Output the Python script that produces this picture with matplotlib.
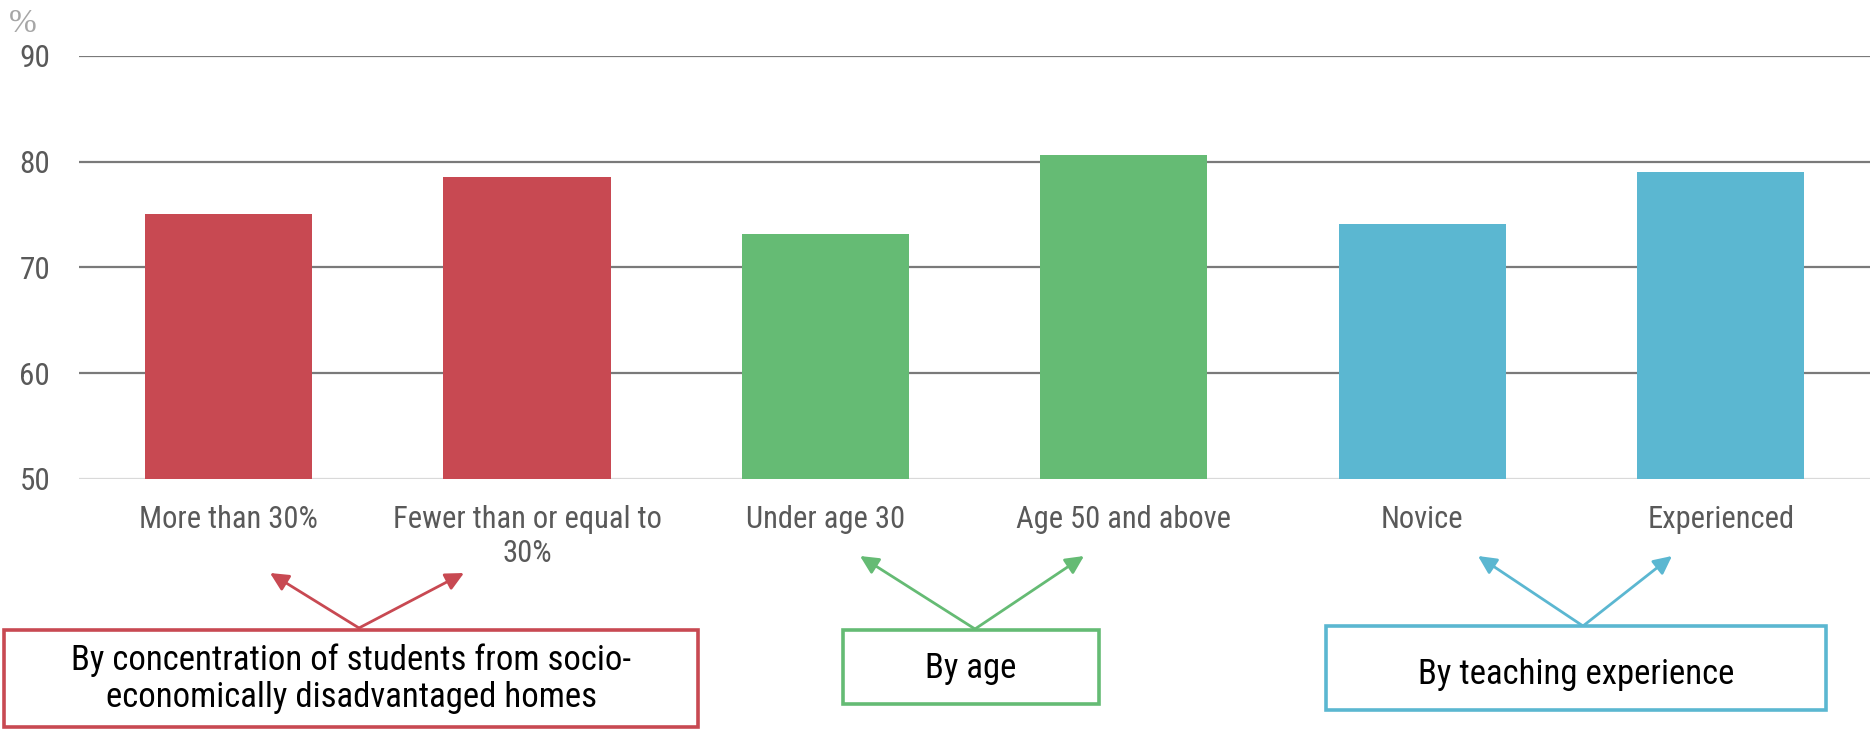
import matplotlib
matplotlib.use("Agg")
import matplotlib.pyplot as plt
from matplotlib.patches import FancyArrowPatch, Rectangle
from matplotlib.transforms import Affine2D

plt.rcParams['font.family'] = ['Roboto Condensed', 'DejaVu Sans']

# Data
categories = ["More than 30%", "Fewer than or equal to\n30%", "Under age 30",
              "Age 50 and above", "Novice", "Experienced"]
values = [75.1, 78.6, 73.2, 80.6, 74.1, 79.0]
group_of_bar = [0, 0, 1, 1, 2, 2]
group_labels = ["By concentration of students from socio-\neconomically disadvantaged homes",
                "By age", "By teaching experience"]
group_colors = ["#C84952", "#65BB74", "#5BB7D1"]
yticks = [50, 60, 70, 80, 90]

W, H = 1870, 729
fig = plt.figure(figsize=(W / 100, H / 100), dpi=100)

# plot area in pixel terms (top-left origin)
left_px, right_px, top_px, bottom_px = 79.3, 1870, 56, 479
ax = fig.add_axes([left_px / W, 1 - bottom_px / H,
                   (right_px - left_px) / W, (bottom_px - top_px) / H])

x = list(range(len(categories)))
ax.bar(x, [v - yticks[0] for v in values], bottom=yticks[0], width=0.56,
       color=[group_colors[g] for g in group_of_bar], zorder=3)

ax.set_xlim(-0.5, len(categories) - 0.5)
ax.set_ylim(yticks[0], yticks[-1])
ax.set_yticks(yticks)
ax.set_yticklabels([str(t) for t in yticks])
ax.set_xticks(x)
ax.set_xticklabels(categories)

ax.grid(axis='y', color='#7a7a7a', lw=1.6, zorder=0)
ax.get_ygridlines()[0].set_color('#d9d9d9')
for s in ax.spines.values():
    s.set_visible(False)

ax.tick_params(axis='y', length=0, pad=21, labelsize=22.5, labelcolor='#595959')
ax.tick_params(axis='x', length=0, pad=19, labelsize=22, labelcolor='#595959')

# transform for pixel coordinates measured from the top-left corner
px = Affine2D().scale(1 / W, -1 / H).translate(0, 1) + fig.transFigure

fig.text(23, 24, "%", transform=px, ha='center', va='center',
         fontsize=24, color='#a6a6a6', family=['Liberation Serif', 'DejaVu Serif'])

# group boxes: (x0, y0, x1, y1) in pixels, and the y of each box's text
boxes = [(4, 630, 698, 727), (843, 630, 1099, 704), (1326, 626, 1826, 710)]
text_y = [679, 669, 675]
# arrows: base point and two tips in pixels
arrows = [((359, 628), [(270, 573), (464, 573)]),
          ((975, 629), [(860, 556), (1084, 556)]),
          ((1583, 626), [(1478, 556), (1672, 556)])]

for g, (box, ty, (base, tips)) in enumerate(zip(boxes, text_y, arrows)):
    c = group_colors[g]
    x0, y0, x1, y1 = box
    fig.add_artist(Rectangle((x0, y0), x1 - x0, y1 - y0, transform=px,
                             facecolor='white', edgecolor=c, lw=2.6, zorder=4))
    fig.text((x0 + x1) / 2, ty, group_labels[g], transform=px,
             ha='center', va='center', fontsize=25, color='black',
             linespacing=1.15, zorder=5)
    for tip in tips:
        fig.add_artist(FancyArrowPatch(base, tip, transform=px,
                                       arrowstyle='-|>,head_length=0.55,head_width=0.27',
                                       mutation_scale=20, color=c, lw=2.0,
                                       shrinkA=0, shrinkB=0, zorder=3))

fig.savefig("out.png", dpi=100)
